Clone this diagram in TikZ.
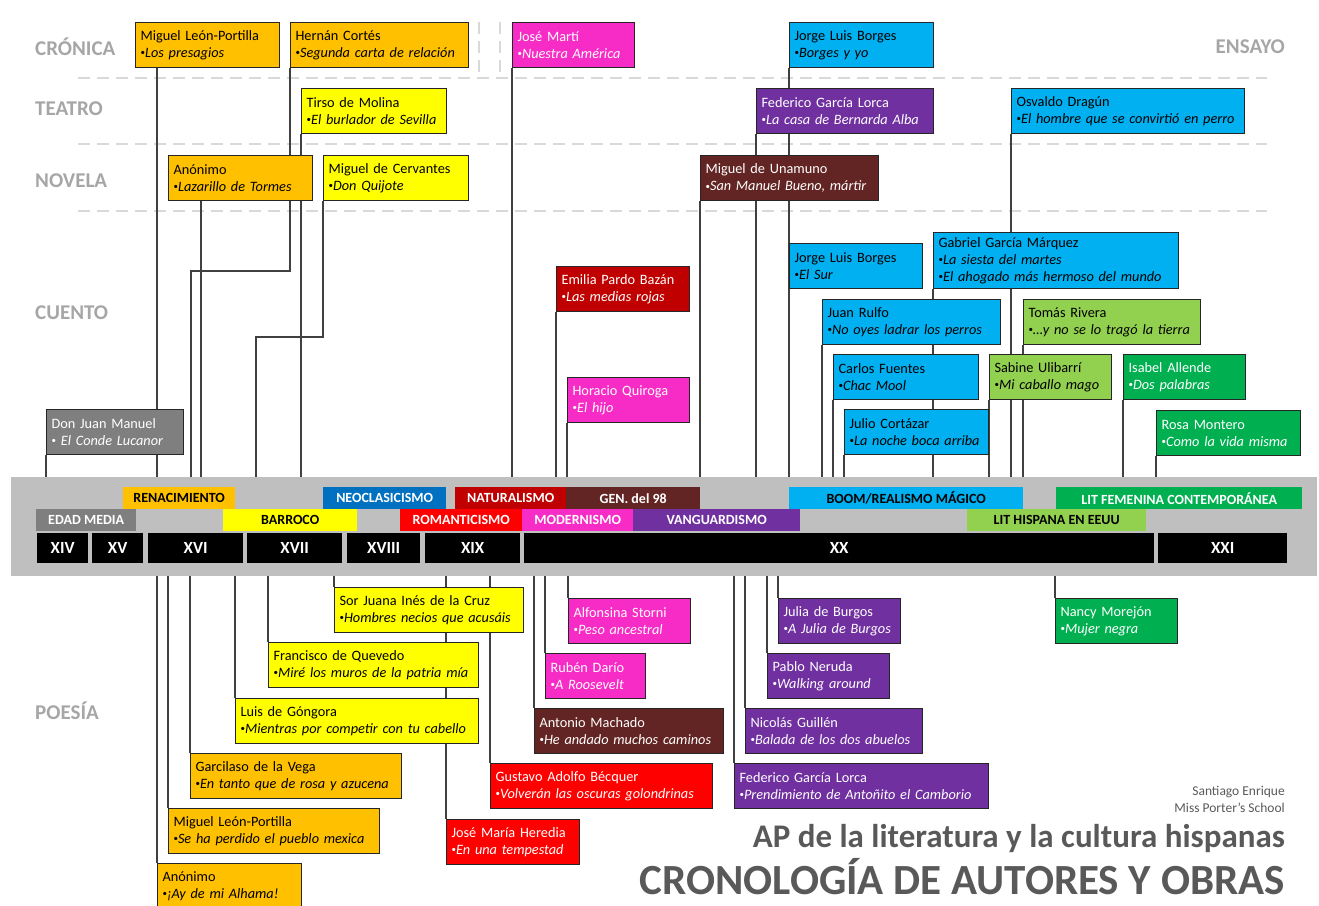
\documentclass[tikz,border=0pt]{standalone}
\usepackage{fontspec}
\setmainfont{Carlito}
\usepackage{xcolor}
\usepackage{tikz}
\pgfdeclarelayer{nodelayer}
\pgfdeclarelayer{edgelayer}
\pgfsetlayers{edgelayer,nodelayer,main}

\definecolor{naranja}{HTML}{FFC000}
\definecolor{amarillo}{HTML}{FFFF00}
\definecolor{rosa}{HTML}{F72CC6}
\definecolor{celeste}{HTML}{00B0F0}
\definecolor{morado}{HTML}{7030A0}
\definecolor{marron}{HTML}{632523}
\definecolor{granate}{HTML}{C00000}
\definecolor{rojo}{HTML}{FF0000}
\definecolor{verde}{HTML}{00B050}
\definecolor{verdeclaro}{HTML}{92D050}
\definecolor{gris}{HTML}{7F7F7F}
\definecolor{azul}{HTML}{0070C0}
\definecolor{fondobanda}{HTML}{BFBFBF}
\definecolor{rotulo}{HTML}{A6A6A6}
\definecolor{titulo}{HTML}{595959}

% vineta pequena de las obras
\newcommand{\punto}{\raisebox{1.5pt}{\fontsize{9}{9}\selectfont\textbullet}}

\tikzset{
  obra/.style={draw=black!85, line width=1.1pt, anchor=north west, inner xsep=5pt,
    inner ysep=0pt, minimum height=45pt, align=left, font=\fontsize{14.3}{17}\selectfont},
  claro/.style={obra, text=black},
  oscuro/.style={obra, text=white},
  periodo/.style={anchor=north west, inner sep=0pt, minimum height=22pt,
    font=\fontsize{14}{16}\selectfont\bfseries},
  siglo/.style={anchor=north west, inner sep=0pt, minimum height=30pt, fill=black,
    text=white, font=\fontsize{17}{20}\selectfont\bfseries},
  genero/.style={inner sep=0pt, text=rotulo, font=\fontsize{21}{24}\selectfont\bfseries},
  conector/.style={draw=black!75, line width=1.2pt},
  separador/.style={draw=black!15, line width=2pt, dash pattern=on 12pt off 7pt},
}

\begin{document}
\begin{tikzpicture}[x=1pt, y=-1pt]
  \useasboundingbox (0,0) rectangle (1319,905);
  \begin{pgfonlayer}{nodelayer}
    % franja de periodos y siglos
    \node [fill=fondobanda, anchor=north west, inner sep=0pt, minimum width=1306pt, minimum height=99pt] (banda) at (11,477) {};
    \node [periodo, fill=naranja, minimum width=112pt] (p1) at (123,487) {RENACIMIENTO};
    \node [periodo, fill=azul, text=white, minimum width=123pt] (p2) at (323,487) {NEOCLASICISMO};
    \node [periodo, fill=granate, text=white, minimum width=111pt] (p3) at (455,487) {NATURALISMO};
    \node [periodo, fill=marron, text=white, minimum width=134pt] (p4) at (566,487) {GEN. del 98};
    \node [periodo, fill=celeste, minimum width=234pt] (p5) at (789,487) {BOOM/REALISMO MÁGICO};
    \node [periodo, fill=verde, text=white, minimum width=246pt] (p6) at (1056,487) {LIT FEMENINA CONTEMPORÁNEA};
    \node [periodo, fill=gris, text=white, minimum width=100pt] (p7) at (36,509) {EDAD MEDIA};
    \node [periodo, fill=amarillo, minimum width=134pt] (p8) at (223,509) {BARROCO};
    \node [periodo, fill=rojo, text=white, minimum width=122pt] (p9) at (400,509) {ROMANTICISMO};
    \node [periodo, fill=rosa, text=white, minimum width=111pt] (p10) at (522,509) {MODERNISMO};
    \node [periodo, fill=morado, text=white, minimum width=167pt] (p11) at (633,509) {VANGUARDISMO};
    \node [periodo, fill=verdeclaro, minimum width=179pt] (p12) at (967,509) {LIT HISPANA EN EEUU};
    \node [siglo, minimum width=51pt] (s1) at (37,533) {XIV};
    \node [siglo, minimum width=51pt] (s2) at (92,533) {XV};
    \node [siglo, minimum width=95pt] (s3) at (148,533) {XVI};
    \node [siglo, minimum width=95pt] (s4) at (247,533) {XVII};
    \node [siglo, minimum width=73pt] (s5) at (347,533) {XVIII};
    \node [siglo, minimum width=95pt] (s6) at (425,533) {XIX};
    \node [siglo, minimum width=630pt] (s7) at (524,533) {XX};
    \node [siglo, minimum width=129pt] (s8) at (1158,533) {XXI};
    % generos
    \node [genero, anchor=west] (g1) at (35,47) {CRÓNICA};
    \node [genero, anchor=west] (g2) at (35,109) {TEATRO};
    \node [genero, anchor=west] (g3) at (35,181) {NOVELA};
    \node [genero, anchor=west] (g4) at (35,313) {CUENTO};
    \node [genero, anchor=west] (g5) at (35,711) {POESÍA};
    \node [genero, anchor=east] (g6) at (1285,47) {ENSAYO};
    % autores arriba
    \node [claro, fill=naranja, text width=134pt] (0) at (135,22) {Miguel León-Portilla\\\punto\textit{Los presagios}};
    \node [claro, fill=naranja, text width=168pt] (1) at (290,22) {Hernán Cortés\\\punto\textit{Segunda carta de relación}};
    \node [oscuro, fill=rosa, text width=112pt] (2) at (512,22) {José Martí\\\punto\textit{Nuestra América}};
    \node [claro, fill=celeste, text width=134pt] (3) at (789,22) {Jorge Luis Borges\\\punto\textit{Borges y yo}};
    \node [claro, fill=amarillo, text width=135pt] (4) at (301,88) {Tirso de Molina\\\punto\textit{El burlador de Sevilla}};
    \node [oscuro, fill=morado, text width=167pt] (5) at (756,88) {Federico García Lorca\\\punto\textit{La casa de Bernarda Alba}};
    \node [claro, fill=celeste, text width=223pt] (6) at (1011,88) {Osvaldo Dragún\\\punto\textit{El hombre que se convirtió en perro}};
    \node [claro, fill=naranja, text width=134pt] (7) at (168,155) {Anónimo\\\punto\textit{Lazarillo de Tormes}};
    \node [claro, fill=amarillo, text width=135pt] (8) at (323,155) {Miguel de Cervantes\\\punto\textit{Don Quijote}};
    \node [oscuro, fill=marron, text width=168pt] (9) at (700,155) {Miguel de Unamuno\\\punto\textit{San Manuel Bueno, mártir}};
    \node [claro, fill=celeste, text width=123pt] (10) at (789,243) {Jorge Luis Borges\\\punto\textit{El Sur}};
    \node [claro, fill=celeste, text width=235pt, minimum height=56pt] (11) at (933,232) {Gabriel García Márquez\\\punto\textit{La siesta del martes}\\\punto\textit{El ahogado más hermoso del mundo}};
    \node [oscuro, fill=granate, text width=123pt] (12) at (556,266) {Emilia Pardo Bazán\\\punto\textit{Las medias rojas}};
    \node [claro, fill=celeste, text width=168pt] (13) at (822,299) {Juan Rulfo\\\punto\textit{No oyes ladrar los perros}};
    \node [claro, fill=verdeclaro, text width=167pt] (14) at (1023,299) {Tomás Rivera\\\punto\textit{\dots y no se lo tragó la tierra}};
    \node [oscuro, fill=rosa, text width=112pt] (15) at (567,377) {Horacio Quiroga\\\punto\textit{El hijo}};
    \node [claro, fill=celeste, text width=135pt] (16) at (833,354) {Carlos Fuentes\\\punto\textit{Chac Mool}};
    \node [claro, fill=verdeclaro, text width=112pt] (17) at (989,354) {Sabine Ulibarrí\\\punto\textit{Mi caballo mago}};
    \node [oscuro, fill=verde, text width=112pt] (18) at (1123,354) {Isabel Allende\\\punto\textit{Dos palabras}};
    \node [oscuro, fill=gris, text width=127pt] (19) at (46,409) {Don Juan Manuel\\\punto\ \textit{El Conde Lucanor}};
    \node [claro, fill=celeste, text width=134pt] (20) at (844,409) {Julio Cortázar\\\punto\textit{La noche boca arriba}};
    \node [oscuro, fill=verde, text width=134pt] (21) at (1156,410) {Rosa Montero\\\punto\textit{Como la vida misma}};
    % autores abajo (poesia)
    \node [claro, fill=amarillo, text width=179pt] (22) at (334,587) {Sor Juana Inés de la Cruz\\\punto\textit{Hombres necios que acusáis}};
    \node [claro, fill=amarillo, text width=200pt] (23) at (268,642) {Francisco de Quevedo\\\punto\textit{Miré los muros de la patria mía}};
    \node [claro, fill=amarillo, text width=233pt] (24) at (235,698) {Luis de Góngora\\\punto\textit{Mientras por competir con tu cabello}};
    \node [claro, fill=naranja, text width=201pt] (25) at (190,753) {Garcilaso de la Vega\\\punto\textit{En tanto que de rosa y azucena}};
    \node [claro, fill=naranja, text width=201pt] (26) at (168,808) {Miguel León-Portilla\\\punto\textit{Se ha perdido el pueblo mexica}};
    \node [claro, fill=naranja, text width=134pt] (27) at (157,863) {Anónimo\\\punto\textit{¡Ay de mi Alhama!}};
    \node [oscuro, fill=rosa, text width=112pt] (28) at (568,598) {Alfonsina Storni\\\punto\textit{Peso ancestral}};
    \node [oscuro, fill=rosa, text width=90pt] (29) at (545,653) {Rubén Darío\\\punto\textit{A Roosevelt}};
    \node [oscuro, fill=marron, text width=179pt] (30) at (534,708) {Antonio Machado\\\punto\textit{He andado muchos caminos}};
    \node [oscuro, fill=rojo, text width=212pt] (31) at (490,763) {Gustavo Adolfo Bécquer\\\punto\textit{Volverán las oscuras golondrinas}};
    \node [oscuro, fill=rojo, text width=123pt] (32) at (446,819) {José María Heredia\\\punto\textit{En una tempestad}};
    \node [oscuro, fill=morado, text width=112pt] (33) at (778,598) {Julia de Burgos\\\punto\textit{A Julia de Burgos}};
    \node [oscuro, fill=morado, text width=112pt] (34) at (767,653) {Pablo Neruda\\\punto\textit{Walking around}};
    \node [oscuro, fill=morado, text width=167pt] (35) at (745,708) {Nicolás Guillén\\\punto\textit{Balada de los dos abuelos}};
    \node [oscuro, fill=morado, text width=244pt] (36) at (734,763) {Federico García Lorca\\\punto\textit{Prendimiento de Antoñito el Camborio}};
    \node [oscuro, fill=verde, text width=112pt] (37) at (1055,598) {Nancy Morejón\\\punto\textit{Mujer negra}};
    % titulo
    \node [anchor=east, inner sep=0pt, text=titulo, font=\fontsize{13.5}{15}\selectfont] (t1) at (1285,792) {Santiago Enrique};
    \node [anchor=east, inner sep=0pt, text=titulo, font=\fontsize{13.5}{15}\selectfont] (t2) at (1285,808) {Miss Porter’s School};
    \node [anchor=base east, inner sep=0pt, text=titulo, font=\fontsize{33}{36}\selectfont\bfseries] (t3) at (1285,847) {AP de la literatura y la cultura hispanas};
    \node [anchor=base east, inner sep=0pt, text depth=0pt, text=titulo, font=\fontsize{43}{46}\selectfont\bfseries] (t4) at (1285,894) {CRONOLOGÍA DE AUTORES Y OBRAS};
  \end{pgfonlayer}
  \begin{pgfonlayer}{edgelayer}
    % separadores
    \draw [separador] (78,78) -- (1267,78);
    \draw [separador] (78,144) -- (1267,144);
    \draw [separador] (78,211) -- (1267,211);
    \draw [separador] (479,22) -- (479,72);
    \draw [separador] (500,22) -- (500,72);
    % conectores arriba
    \coordinate (a0) at ([xshift=22pt]0.south west);
    \coordinate (a7) at ([xshift=33pt]7.south west);
    \coordinate (j1) at (191,271);
    \coordinate (j2) at (256,337);
    \draw [conector] (a0) -- (a0 |- banda.north);
    \draw [conector] (1.south west) |- (j1) -- (j1 |- banda.north);
    \draw [conector] (a7) -- (a7 |- banda.north);
    \draw [conector] (8.south west) |- (j2) -- (j2 |- banda.north);
    \foreach \n in {2,3,4,5,6,9,10,11,12,13,14,15,16,17,18,19,20,21}
      \draw [conector] (\n.south west) -- (\n.south west |- banda.north);
    % conectores abajo
    \foreach \n in {22,...,37}
      \draw [conector] (\n.north west |- banda.south) -- (\n.north west);
  \end{pgfonlayer}
\end{tikzpicture}
\end{document}
